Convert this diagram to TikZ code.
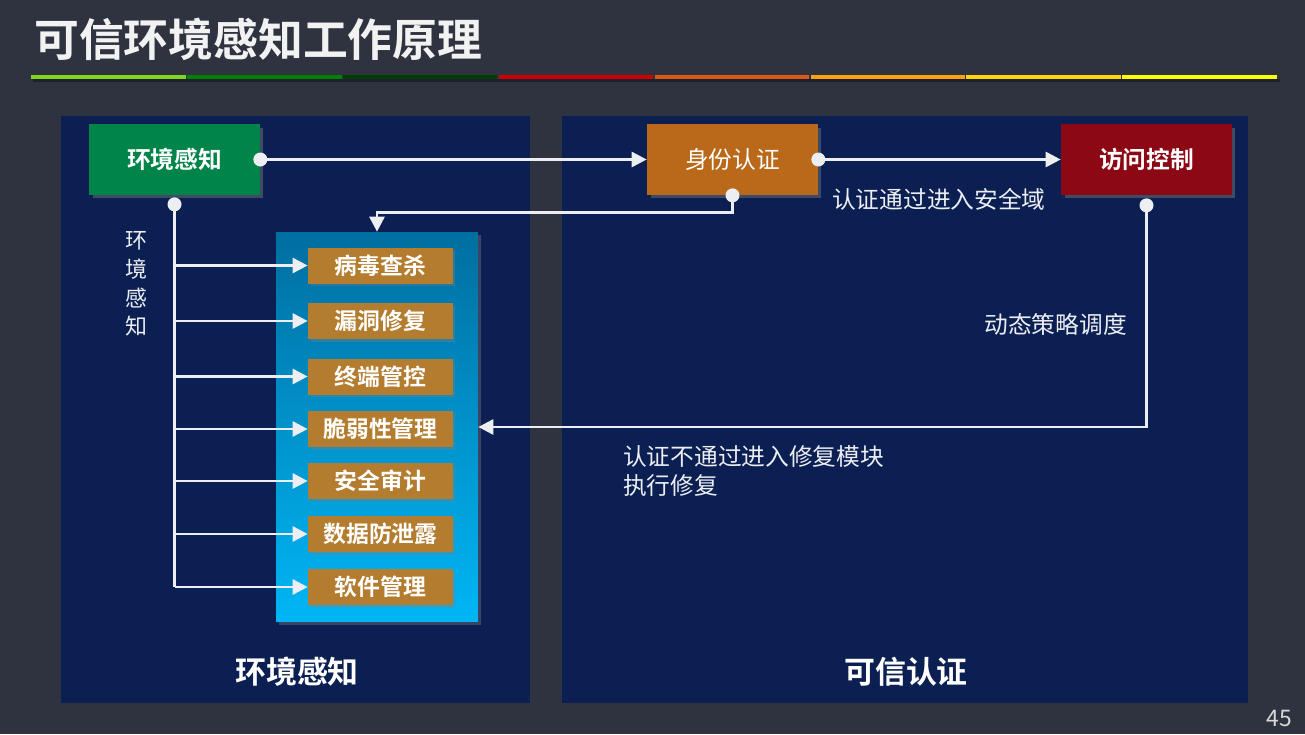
\documentclass[tikz,border=0pt]{standalone}
\usepackage{fontspec}
\setmainfont{Noto Sans CJK SC}[BoldFont={Noto Sans CJK SC Bold}]
\usetikzlibrary{arrows.meta,shadows}

\definecolor{bgdark}{RGB}{46,51,63}
\definecolor{panelblue}{RGB}{11,31,82}
\definecolor{envgreen}{RGB}{0,132,74}
\definecolor{authorange}{RGB}{185,105,25}
\definecolor{accred}{RGB}{140,8,20}
\definecolor{itembrown}{RGB}{180,124,46}
\definecolor{fixtop}{RGB}{0,110,160}
\definecolor{fixbottom}{RGB}{0,182,245}
\definecolor{linegray}{RGB}{236,238,242}
\definecolor{barA}{RGB}{126,214,32}
\definecolor{barB}{RGB}{0,128,0}
\definecolor{barC}{RGB}{0,62,0}
\definecolor{barD}{RGB}{204,0,0}
\definecolor{barE}{RGB}{222,88,20}
\definecolor{barF}{RGB}{255,160,16}
\definecolor{barG}{RGB}{255,214,10}
\definecolor{barH}{RGB}{255,255,0}

\begin{document}
\begin{tikzpicture}[x=0.02cm,y=-0.02cm,
    box/.style={minimum width=3.42cm,minimum height=1.42cm,text=white,
        font=\fontsize{13.5pt}{16pt}\selectfont,
        drop shadow={shadow xshift=0.07cm,shadow yshift=-0.07cm,opacity=0.45}},
    item/.style={fill=itembrown,minimum width=2.9cm,minimum height=0.72cm,text=white,
        font=\bfseries\fontsize{13pt}{15pt}\selectfont,
        drop shadow={shadow xshift=0.05cm,shadow yshift=-0.05cm,opacity=0.35}},
    conn/.style={draw=linegray,line width=1.6pt},
    tip/.style={-{Triangle[length=0.3cm,width=0.3cm]}},
    pin/.style={fill=linegray},
    note/.style={text=linegray,font=\fontsize{13.5pt}{16.4pt}\selectfont}]
    % 背景
    \fill[bgdark] (0,0) rectangle (1305,734);
    \useasboundingbox (0,0) rectangle (1305,734);

    % 标题与彩条
    \node[anchor=west,text=white!95!black,font=\bfseries\fontsize{25.5pt}{28pt}\selectfont] (title) at (28,39) {可信环境感知工作原理};
    \fill[black,opacity=0.35] (33,79) rectangle (1280,82);
    \foreach \c [count=\k from 0] in {barA,barB,barC,barD,barE,barF,barG,barH} {
        \fill[\c] (31+\k*155.9,74.5) rectangle ++(154.6,4.6);
    }

    % 两个面板
    \fill[panelblue] (61,116) rectangle (530,703);
    \fill[panelblue] (562,116) rectangle (1248,703);
    \node[text=white,font=\bfseries\fontsize{17.6pt}{20pt}\selectfont] (envtitle) at (297,672) {环境感知};
    \node[text=white,font=\bfseries\fontsize{17.6pt}{20pt}\selectfont] (authtitle) at (906,672) {可信认证};

    % 修复模块
    \node[minimum width=4.04cm,minimum height=7.8cm,top color=fixtop,bottom color=fixbottom,
        drop shadow={shadow xshift=0.06cm,shadow yshift=-0.06cm,opacity=0.4}] (fix) at (377,427) {};

    % 三个主框
    \node[box,fill=envgreen,font=\bfseries\fontsize{13.5pt}{16pt}\selectfont] (env) at (174.5,159.5) {环境感知};
    \node[box,fill=authorange] (auth) at (732.5,159.5) {身份认证};
    \node[box,fill=accred,font=\bfseries\fontsize{13.5pt}{16pt}\selectfont] (acc) at (1146.5,159.5) {访问控制};

    % 主流程
    \draw[conn,tip] (env.east) -- (auth.west);
    \draw[conn,tip] (auth.east) -- (acc.west);
    \fill[pin] (env.east) circle (0.14cm);
    \fill[pin] (auth.east) circle (0.14cm);
    \node[note,anchor=west] (passnote) at (826,199) {认证通过进入安全域};

    % 认证后返回修复模块
    \draw[conn,tip] (auth.south) |- ([yshift=0.38cm]fix.north) -- (fix.north);
    \fill[pin] (auth.south) circle (0.14cm);
    \draw[conn,tip] ([yshift=-0.2cm]acc.south) |- (fix.east);
    \fill[pin] ([yshift=-0.2cm]acc.south) circle (0.14cm);
    \node[note,anchor=east] (dynnote) at (1133,324) {动态策略调度};
    \node[note,anchor=west,align=left] (failnote) at (617,471) {认证不通过进入修复模块\\执行修复};

    % 环境感知各项
    \node[note,align=center,font=\fontsize{12.5pt}{16.4pt}\selectfont] (envtext) at (136,284) {环\\境\\感\\知};
    \foreach \name/\y [count=\k] in {病毒查杀/265.5,漏洞修复/321,终端管控/376.5,脆弱性管理/429,安全审计/481,数据防泄露/534,软件管理/587} {
        \node[item] (i\k) at (380.5,\y) {\name};
        \draw[conn,tip] (env.south |- i\k.west) -- (i\k.west);
    }
    \draw[conn] ([yshift=-0.18cm]env.south) -- (env.south |- i7.west);
    \fill[pin] ([yshift=-0.18cm]env.south) circle (0.14cm);

    % 页码
    \node[text=white!85!black,font=\fontsize{13pt}{15pt}\selectfont] (pageno) at (1279,718) {45};
\end{tikzpicture}
\end{document}
